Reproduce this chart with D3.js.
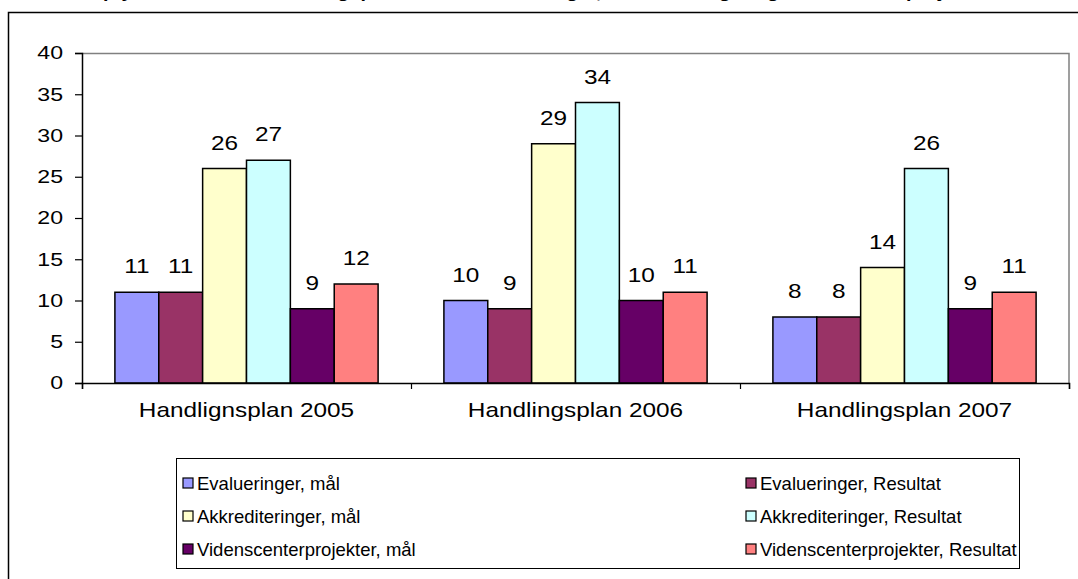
<!DOCTYPE html>
<html>
<head>
<meta charset="utf-8">
<script src="https://cdn.jsdelivr.net/npm/d3@7"></script>
<style>
  body { margin: 0; background: #fff; }
  svg { display: block; }
  text { font-family: Arial, 'Liberation Sans', sans-serif; fill: #000; }
</style>
</head>
<body>
<svg id="chart" width="1078" height="579"></svg>
<script>
// data
let categories = ['Handlignsplan 2005', 'Handlingsplan 2006', 'Handlingsplan 2007']
let seriesNames = [
  'Evalueringer, mål',
  'Evalueringer, Resultat',
  'Akkrediteringer, mål',
  'Akkrediteringer, Resultat',
  'Videnscenterprojekter, mål',
  'Videnscenterprojekter, Resultat'
]
let evalMaal = [11, 10, 8]
let evalResultat = [11, 9, 8]
let akkMaal = [26, 29, 14]
let akkResultat = [27, 34, 26]
let videnMaal = [9, 10, 9]
let videnResultat = [12, 11, 11]
let yTicks = [0, 5, 10, 15, 20, 25, 30, 35, 40]
let colors = ['#9999ff', '#993366', '#ffffcc', '#ccffff', '#660066', '#ff8080']
let titleText = 'Opfyldelse af mål i handlingsplanerne for evalueringer, akkrediteringer og videnscenterprojekter'

let allSeries = [evalMaal, evalResultat, akkMaal, akkResultat, videnMaal, videnResultat]

// the original picture is stretched sideways, so text is too
let stretch = 1.16

// margins for the plot area
let margin = { top: 53, left: 82, right: 9, bottom: 196 }
let width = 1078 - margin.left - margin.right
let height = 579 - margin.top - margin.bottom

let svg = d3.select('#chart')

// outer chart border (runs past the right and bottom edge)
svg.append('rect')
  .attr('x', 8.5).attr('y', 12.5)
  .attr('width', 1100).attr('height', 700)
  .attr('fill', '#fff')
  .attr('stroke', '#000')
  .attr('stroke-width', 1.5)

// title, mostly cut off above the picture
svg.append('text')
  .text(titleText)
  .attr('transform', `translate(539,-2) scale(${stretch},1)`)
  .attr('text-anchor', 'middle')
  .attr('font-size', 17)
  .attr('font-weight', 'bold')

let g = svg.append('g').attr('transform', `translate(${margin.left},${margin.top})`)

// scales
let xGroup = d3.scaleBand().domain(categories).range([0, width])
let xSeries = d3.scaleBand().domain(d3.range(seriesNames.length))
  .range([0, xGroup.bandwidth()]).paddingInner(0).paddingOuter(0.75)
let yScale = d3.scaleLinear().domain([0, 40]).range([height, 0])
let xEdges = d3.scaleLinear().domain([0, categories.length]).range([0, width])

// plot area border (top, right)
g.append('path')
  .attr('d', `M0,0.5H${width}V${height}`)
  .attr('fill', 'none')
  .attr('stroke', '#808080')
  .attr('stroke-width', 1.5)

// bars
let barData = []
categories.forEach((c, i) => {
  allSeries.forEach((s, j) => {
    barData.push({ cat: c, series: j, value: s[i] })
  })
})

g.selectAll('.bar')
  .data(barData)
  .enter()
  .append('rect')
  .attr('class', 'bar')
  .attr('x', d => xGroup(d.cat) + xSeries(d.series))
  .attr('y', d => yScale(d.value))
  .attr('width', xSeries.bandwidth())
  .attr('height', d => height - yScale(d.value))
  .attr('fill', d => colors[d.series])
  .attr('stroke', '#000')
  .attr('stroke-width', 1.5)

g.selectAll('.value-label')
  .data(barData)
  .enter()
  .append('text')
  .attr('class', 'value-label')
  .text(d => d.value)
  .attr('transform', d => {
    let x = xGroup(d.cat) + xSeries(d.series) + xSeries.bandwidth() / 2
    let y = yScale(d.value) - 19
    return `translate(${x},${y}) scale(${stretch},1)`
  })
  .attr('text-anchor', 'middle')
  .attr('font-size', 21)

// axes
let yAxis = d3.axisLeft(yScale).tickValues(yTicks).tickSize(7).tickPadding(12)
g.append('g')
  .attr('class', 'axis y-axis')
  .call(yAxis)
  .call(a => a.selectAll('text')
    .attr('font-size', 18.5)
    .attr('font-family', null)
    .attr('x', null)
    .attr('transform', 'translate(-19,0) scale(1.25,1)'))
  .call(a => a.select('.domain').attr('stroke', '#000').attr('stroke-width', 1.5))
  .call(a => a.selectAll('line').attr('stroke-width', 1.2))

let xAxis = d3.axisBottom(xEdges).tickValues(d3.range(categories.length + 1)).tickSize(6).tickFormat('')
g.append('g')
  .attr('class', 'axis x-axis')
  .attr('transform', `translate(0,${height})`)
  .call(xAxis)
  .call(a => a.select('.domain').attr('stroke', '#000').attr('stroke-width', 1.5))
  .call(a => a.selectAll('line').attr('stroke-width', 1.2))

g.selectAll('.cat-label')
  .data(categories)
  .enter()
  .append('text')
  .attr('class', 'cat-label')
  .text(d => d)
  .attr('transform', d => `translate(${xGroup(d) + xGroup.bandwidth() / 2},${height + 34}) scale(${stretch},1)`)
  .attr('text-anchor', 'middle')
  .attr('font-size', 21)

// legend
let legend = svg.append('g').attr('transform', 'translate(176,458)')
legend.append('rect')
  .attr('x', 0.5).attr('y', 0.5)
  .attr('width', 843).attr('height', 110)
  .attr('fill', '#fff')
  .attr('stroke', '#000')
  .attr('stroke-width', 1)

let legendItems = legend.selectAll('.legend-item')
  .data(seriesNames)
  .enter()
  .append('g')
  .attr('class', 'legend-item')
  .attr('transform', (d, i) => `translate(${i % 2 === 0 ? 7 : 570},${26 + Math.floor(i / 2) * 33})`)

legendItems.append('rect')
  .attr('x', 0).attr('y', -6)
  .attr('width', 10).attr('height', 10)
  .attr('fill', (d, i) => colors[i])
  .attr('stroke', '#000')
  .attr('stroke-width', 1.2)

legendItems.append('text')
  .text(d => d)
  .attr('x', 14)
  .attr('y', 6)
  .attr('font-size', 18.5)
</script>
</body>
</html>
